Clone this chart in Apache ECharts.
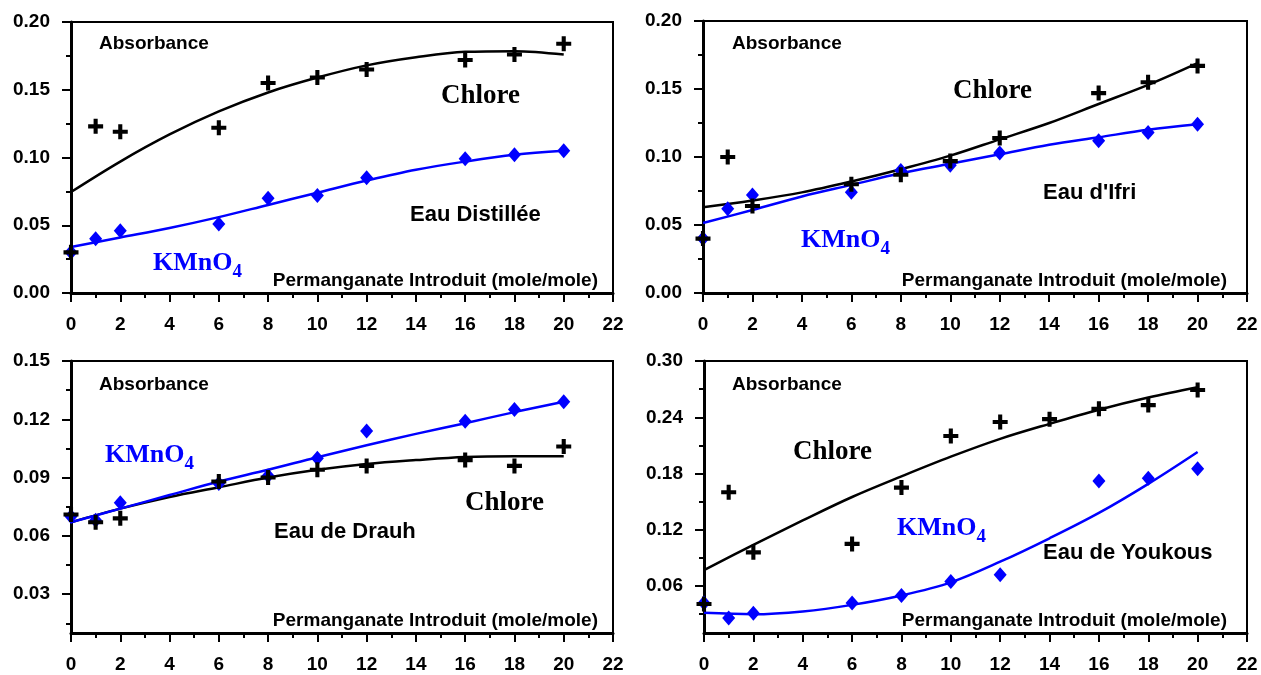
<!DOCTYPE html>
<html>
<head>
<meta charset="utf-8">
<script src="https://cdn.jsdelivr.net/npm/echarts@6/dist/echarts.min.js"></script>
<style>
  html, body { margin: 0; padding: 0; background: #fff; }
  #chart { width: 1261px; height: 675px; }
</style>
</head>
<body>
<div id="chart"></div>
<script>
// Permanganate dose (mole/mole) at which absorbance was measured
const doses = [0, 1, 2, 6, 8, 10, 12, 16, 18, 20];
const dosesYoukousChlore = [0, 1, 2, 6, 8, 10, 12, 14, 16, 18, 20];
// Dose positions at which the fitted trend curves are sampled
const trendDoses = [0, 2, 4, 6, 8, 10, 12, 14, 16, 18, 20];

// Eau Distillée
const distChlore = [0.030, 0.123, 0.119, 0.122, 0.155, 0.159, 0.165, 0.172, 0.176, 0.184];
const distKmno4 = [0.030, 0.040, 0.046, 0.051, 0.070, 0.072, 0.085, 0.099, 0.102, 0.105];
const distChloreTrend = [0.0745, 0.097, 0.117, 0.134, 0.148, 0.159, 0.168, 0.174, 0.178, 0.1785, 0.176];
const distKmno4Trend = [0.034, 0.041, 0.048, 0.056, 0.065, 0.074, 0.083, 0.091, 0.097, 0.102, 0.105];

// Eau d'Ifri
const ifriChlore = [0.040, 0.100, 0.064, 0.080, 0.087, 0.097, 0.114, 0.147, 0.155, 0.167];
const ifriKmno4 = [0.040, 0.062, 0.072, 0.074, 0.090, 0.094, 0.103, 0.112, 0.118, 0.124];
const ifriChloreTrend = [0.063, 0.068, 0.074, 0.082, 0.091, 0.101, 0.113, 0.125, 0.139, 0.153, 0.169];
const ifriKmno4Trend = [0.0515, 0.061, 0.071, 0.0795, 0.088, 0.095, 0.102, 0.109, 0.1145, 0.120, 0.124];

// Eau de Drauh
const drauhChlore = [0.071, 0.067, 0.069, 0.088, 0.090, 0.094, 0.096, 0.099, 0.096, 0.106];
const drauhKmno4 = [0.070, 0.068, 0.077, 0.087, 0.091, 0.100, 0.114, 0.119, 0.125, 0.129];
const drauhChloreTrend = [0.067, 0.074, 0.080, 0.085, 0.090, 0.094, 0.097, 0.099, 0.1006, 0.101, 0.101];
const drauhKmno4Trend = [0.067, 0.074, 0.081, 0.088, 0.094, 0.1005, 0.1066, 0.1125, 0.118, 0.1237, 0.129];

// Eau de Youkous
const youkousChlore = [0.041, 0.160, 0.096, 0.105, 0.165, 0.220, 0.235, 0.238, 0.249, 0.253, 0.269];
const youkousKmno4 = [0.042, 0.026, 0.031, 0.042, 0.050, 0.065, 0.072, 0.172, 0.175, 0.185];
const youkousChloreTrend = [0.077, 0.104, 0.130, 0.155, 0.177, 0.198, 0.217, 0.233, 0.248, 0.261, 0.272];
const youkousKmno4Trend = [0.0315, 0.030, 0.033, 0.040, 0.050, 0.064, 0.086, 0.111, 0.138, 0.169, 0.203];

// Y tick labels of the two lower panels
const drauhTicks = [0.03, 0.06, 0.09, 0.12, 0.15];
const drauhMinorTicks = [0.015, 0.045, 0.075, 0.105, 0.135];
const youkousTicks = [0.06, 0.12, 0.18, 0.24, 0.30];
const youkousMinorTicks = [0.03, 0.09, 0.15, 0.21, 0.27];

const SANS = "'Liberation Sans', Arial, Helvetica, sans-serif";
const SERIF = "'Liberation Serif', 'Times New Roman', Times, serif";
const BLUE = '#0000ff';
const CROSS = 'path://M4,0H7V4H11V7H7V11H4V7H0V4H4Z';

const zip = (xs, ys) => xs.map((x, i) => [x, ys[i]]);

const grids = [
  { left: 71, top: 22, width: 542, height: 271 },
  { left: 703, top: 21, width: 544, height: 272 },
  { left: 71, top: 361, width: 542, height: 272 },
  { left: 704, top: 361, width: 543, height: 272 }
].map(g => Object.assign({
  show: true, borderColor: '#000', borderWidth: 2,
  backgroundColor: 'transparent', containLabel: false, outerBoundsMode: 'none'
}, g));

const axisLine = { show: true, onZero: false, lineStyle: { color: '#000', width: 3 } };
const labelFont = { color: '#000', fontFamily: SANS, fontWeight: 'bold', fontSize: 19 };

function xAxisFor(gi) {
  return {
    type: 'value', gridIndex: gi, min: 0, max: 22, interval: 2,
    axisLine: axisLine,
    axisTick: { show: true, inside: false, length: 9, lineStyle: { color: '#000', width: 2 } },
    minorTick: { show: true, splitNumber: 2, length: 5, lineStyle: { color: '#000', width: 2 } },
    splitLine: { show: false }, minorSplitLine: { show: false },
    axisLabel: Object.assign({ margin: 22 }, labelFont)
  };
}

function yAxisFor(gi, extra) {
  return Object.assign({
    type: 'value', gridIndex: gi,
    axisLine: axisLine,
    axisTick: { show: true, inside: false, length: 9, lineStyle: { color: '#000', width: 2 } },
    splitLine: { show: false }, minorSplitLine: { show: false },
    axisLabel: Object.assign({ margin: 21, formatter: v => v.toFixed(2) }, labelFont)
  }, extra);
}

function minorYAxis(gi, min, max, values) {
  return {
    type: 'value', gridIndex: gi, min: min, max: max, position: 'left',
    axisLine: { show: false },
    axisTick: { show: true, length: 5, customValues: values, lineStyle: { color: '#000', width: 2 } },
    axisLabel: { show: false }, splitLine: { show: false }
  };
}

const yAxes = [
  yAxisFor(0, { min: 0, max: 0.2, interval: 0.05,
    minorTick: { show: true, splitNumber: 2, length: 5, lineStyle: { color: '#000', width: 2 } } }),
  yAxisFor(1, { min: 0, max: 0.2, interval: 0.05,
    minorTick: { show: true, splitNumber: 2, length: 5, lineStyle: { color: '#000', width: 2 } } }),
  yAxisFor(2, { min: 0.01, max: 0.15 }),
  yAxisFor(3, { min: 0.01, max: 0.30 }),
  minorYAxis(2, 0.01, 0.15, drauhMinorTicks),
  minorYAxis(3, 0.01, 0.30, youkousMinorTicks)
];
yAxes[2].axisTick.customValues = drauhTicks;
yAxes[2].axisLabel.customValues = drauhTicks;
yAxes[3].axisTick.customValues = youkousTicks;
yAxes[3].axisLabel.customValues = youkousTicks;

function trend(gi, xs, ys, color) {
  return {
    type: 'line', xAxisIndex: gi, yAxisIndex: gi, data: zip(xs, ys),
    smooth: 0.35, showSymbol: false, symbol: 'none', silent: true, z: 2,
    lineStyle: { color: color, width: 2.5 }
  };
}
function diamonds(gi, xs, ys) {
  return {
    type: 'scatter', xAxisIndex: gi, yAxisIndex: gi, data: zip(xs, ys),
    symbol: 'diamond', symbolSize: [13, 15], z: 3,
    itemStyle: { color: BLUE, opacity: 1 }
  };
}
function crosses(gi, xs, ys) {
  return {
    type: 'scatter', xAxisIndex: gi, yAxisIndex: gi, data: zip(xs, ys),
    symbol: CROSS, symbolSize: 15, z: 4,
    itemStyle: { color: '#000', opacity: 1 }
  };
}

const series = [
  trend(0, trendDoses, distChloreTrend, '#000'),
  trend(0, trendDoses, distKmno4Trend, BLUE),
  diamonds(0, doses, distKmno4),
  crosses(0, doses, distChlore),

  trend(1, trendDoses, ifriChloreTrend, '#000'),
  trend(1, trendDoses, ifriKmno4Trend, BLUE),
  diamonds(1, doses, ifriKmno4),
  crosses(1, doses, ifriChlore),

  trend(2, trendDoses, drauhChloreTrend, '#000'),
  trend(2, trendDoses, drauhKmno4Trend, BLUE),
  diamonds(2, doses, drauhKmno4),
  crosses(2, doses, drauhChlore),

  trend(3, trendDoses, youkousChloreTrend, '#000'),
  trend(3, trendDoses, youkousKmno4Trend, BLUE),
  diamonds(3, doses, youkousKmno4),
  crosses(3, dosesYoukousChlore, youkousChlore)
];

// Text annotations inside each panel
function sansText(text, x, y, size, align) {
  return { type: 'text', x: x, y: y, z: 10, silent: true,
    style: { text: text, fill: '#000', font: 'bold ' + size + 'px ' + SANS,
      align: align || 'left', verticalAlign: 'middle' } };
}
function chloreText(x, y) {
  return { type: 'text', x: x, y: y, z: 10, silent: true,
    style: { text: 'Chlore', fill: '#000', font: 'bold 27px ' + SERIF,
      align: 'left', verticalAlign: 'middle' } };
}
function kmno4Text(x, y) {
  return { type: 'text', x: x, y: y, z: 10, silent: true,
    style: { text: '{a|KMnO}{b|4}', align: 'left', verticalAlign: 'middle',
      rich: {
        a: { fill: BLUE, fontFamily: SERIF, fontWeight: 'bold', fontSize: 26, lineHeight: 30, verticalAlign: 'top' },
        b: { fill: BLUE, fontFamily: SERIF, fontWeight: 'bold', fontSize: 19, lineHeight: 19, verticalAlign: 'top', padding: [13, 0, 0, 0] }
      } } };
}
const AXIS_TITLE = 'Permanganate Introduit (mole/mole)';

const graphic = [
  sansText('Absorbance', 99, 44, 19),
  chloreText(441, 96),
  sansText('Eau Distillée', 410, 215, 22),
  kmno4Text(153, 265),
  sansText(AXIS_TITLE, 598, 281, 19, 'right'),

  sansText('Absorbance', 732, 44, 19),
  chloreText(953, 91),
  sansText("Eau d'Ifri", 1043, 193, 22),
  kmno4Text(801, 242),
  sansText(AXIS_TITLE, 1227, 281, 19, 'right'),

  sansText('Absorbance', 99, 385, 19),
  kmno4Text(105, 457),
  chloreText(465, 503),
  sansText('Eau de Drauh', 274, 532, 22),
  sansText(AXIS_TITLE, 598, 621, 19, 'right'),

  sansText('Absorbance', 732, 385, 19),
  chloreText(793, 452),
  kmno4Text(897, 530),
  sansText('Eau de Youkous', 1043, 553, 22),
  sansText(AXIS_TITLE, 1227, 621, 19, 'right')
];

const chart = echarts.init(document.getElementById('chart'), null, { renderer: 'canvas' });
chart.setOption({
  animation: false,
  backgroundColor: '#fff',
  grid: grids,
  xAxis: [0, 1, 2, 3].map(xAxisFor),
  yAxis: yAxes,
  series: series,
  graphic: graphic
});
</script>
</body>
</html>
